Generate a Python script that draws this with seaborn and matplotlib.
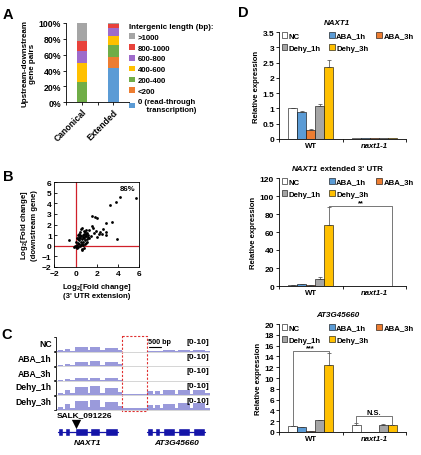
import numpy as np
import pandas as pd
import seaborn as sns
import matplotlib.pyplot as plt
from matplotlib.patches import Patch
from matplotlib.offsetbox import TextArea, HPacker, AnchoredOffsetbox
from matplotlib.transforms import blended_transform_factory

# ---- panel A: intergenic length of gene pairs (%)
a_pairs = ['Canonical', 'Extended']
a_bins = ['0 (read-through\n    transcription)', '<200', '200-400', '400-600',
          '600-800', '800-1000', '>1000']
a_canonical = [0, 0, 25.6, 24.4, 14.3, 13.4, 22.3]
a_extended = [43.3, 13.4, 16.0, 10.5, 10.1, 5.4, 1.3]
a_colors = ['#5B9BD5', '#ED7D31', '#70AD47', '#FFC000', '#9E6BCB', '#E8423B', '#A5A5A5']

# ---- panel B: log2 fold changes (3' UTR extension vs downstream gene)
b_x = [5.7, 4.2, 3.8, 3.2, 3.4, 2.9, 3.9, 1.5, 1.8, 2.0, -0.6,
       2.6, 2.9, 2.9, 2.5, 2.2, 2.0, 1.9, 1.6, 1.5, 1.3, 1.7, 2.3,
       1.2, 1.1, 1.0, 0.9, 0.8, 0.7, 0.6, 0.5, 0.4, 0.3, 0.2, 0.1, 0.0,
       0.5, 0.6, 0.7, 0.8, 0.9, 1.0, 0.3, 0.4, 0.2, 0.1, 0.0, -0.1, -0.2,
       0.6, 0.8, 0.5, 0.3, 0.4, 0.2, 0.1, 0.7, 0.9, 1.1, 1.2, 1.4, 1.0,
       0.5, 0.6, 0.7, 0.3, 0.8, 1.0, 1.3, 0.4, 0.9, 0.6, 0.2, 1.1]
b_y = [4.5, 4.6, 4.1, 3.8, 2.2, 2.1, 0.6, 2.8, 2.7, 2.6, 0.5,
       1.6, 1.3, 1.0, 1.1, 1.1, 0.8, 1.4, 1.7, 1.9, 1.5, 1.2, 1.3,
       1.0, 1.2, 0.9, 1.3, 1.1, 0.8, 1.7, 1.6, 1.3, 1.1, 1.0, 0.7, 0.4,
       0.9, 0.6, 0.4, 0.7, 0.5, 0.3, 0.5, 0.7, 0.3, 0.1, -0.1, 0.0, -0.1,
       -0.3, -0.2, 0.1, 0.2, 0.0, -0.1, -0.2, 1.0, 0.9, 0.6, 0.8, 0.9, 1.5,
       0.4, 0.2, 0.1, 0.8, 1.4, 1.1, 0.7, 1.0, 0.2, -0.4, 0.6, 0.4]
b_percent = '86%'

# ---- panel C: RNA-seq coverage (0-10 scale) over genomic bins (bp)
c_tracks = ['NC', 'ABA_1h', 'ABA_3h', 'Dehy_1h', 'Dehy_3h']
c_edges = [0, 40, 250, 335, 545, 750, 1300, 1380, 1800, 2010, 2550, 2700,
           3770, 4020, 4100, 4310, 4435, 4940, 5060, 5565, 5690, 6190, 6400]
c_nc = [0.3, 1.0, 0.3, 1.6, 0.6, 3.0, 1.0, 3.2, 1.0, 2.8, 1.2, 0.0,
        0.6, 0.2, 0.7, 0.2, 0.9, 0.2, 0.9, 0.2, 0.9, 0.4]
c_aba1 = [0.3, 1.0, 0.3, 1.8, 0.6, 3.2, 1.0, 3.4, 1.0, 2.9, 1.2, 0.0,
          0.1, 0.0, 0.1, 0.0, 0.2, 0.0, 0.2, 0.0, 0.2, 0.0]
c_aba3 = [0.2, 0.6, 0.2, 1.0, 0.4, 2.2, 0.6, 2.0, 0.6, 1.8, 0.8, 0.0,
          0.1, 0.0, 0.1, 0.0, 0.1, 0.0, 0.1, 0.0, 0.1, 0.0]
c_dehy1 = [0.5, 2.0, 0.8, 3.8, 1.5, 6.0, 2.0, 6.2, 2.0, 5.2, 2.5, 1.2,
           2.8, 1.0, 3.2, 1.0, 3.8, 1.0, 3.8, 1.0, 4.0, 1.5]
c_dehy3 = [0.5, 2.2, 0.8, 4.0, 1.5, 6.5, 2.0, 6.6, 2.0, 5.6, 2.5, 1.4,
           3.2, 1.2, 3.8, 1.2, 4.4, 1.2, 4.5, 1.2, 4.6, 1.5]
c_naxt1_exons = [(40, 250), (335, 545), (750, 1300), (1380, 1800), (2010, 2550)]
c_at3g_exons = [(3770, 4020), (4100, 4310), (4435, 4940), (5060, 5565), (5690, 6190)]
c_extension = (2700, 3770)
c_salk_pos = 800
c_salk = 'SALK_091226'

# ---- panel D: qRT-PCR relative expression
d_genotypes = ['WT', 'naxt1-1']
d_treatments = ['NC', 'ABA_1h', 'ABA_3h', 'Dehy_1h', 'Dehy_3h']
d_colors = ['#FFFFFF', '#5B9BD5', '#ED7D31', '#A5A5A5', '#FFC000']
d1_wt = [1.0, 0.87, 0.29, 1.08, 2.34]
d1_wt_err = [0.01, 0.03, 0.03, 0.08, 0.26]
d1_mut = [0.02, 0.02, 0.02, 0.02, 0.02]
d1_mut_err = [0, 0, 0, 0, 0]
d2_wt = [1.0, 1.8, 0.6, 8.0, 68.0]
d2_wt_err = [0.2, 0.3, 0.1, 2.5, 19.5]
d2_mut = [0.3, 0.2, 0.2, 0.3, 0.3]
d2_mut_err = [0, 0, 0, 0, 0]
d3_wt = [1.05, 0.86, 0.2, 2.15, 12.4]
d3_wt_err = [0.05, 0.15, 0.03, 0.15, 2.2]
d3_mut = [1.35, 0.05, 0.05, 1.35, 1.23]
d3_mut_err = [0.3, 0, 0, 0.1, 0.1]

sns.set_theme(style='white', rc={
    'axes.edgecolor': 'black', 'axes.linewidth': 0.6,
    'xtick.color': 'black', 'ytick.color': 'black',
    'text.color': 'black', 'axes.labelcolor': 'black',
    'xtick.bottom': True, 'ytick.left': True,
})
plt.rcParams['font.family'] = ['Liberation Sans', 'DejaVu Sans']
plt.rcParams['font.weight'] = 'bold'
plt.rcParams['axes.labelweight'] = 'bold'
plt.rcParams['mathtext.fontset'] = 'custom'
plt.rcParams['mathtext.default'] = 'bf'
plt.rcParams['mathtext.bf'] = 'Liberation Sans:bold'
plt.rcParams['mathtext.rm'] = 'Liberation Sans:bold'

W, H = 421, 456
fig = plt.figure(figsize=(W / 100, H / 100), dpi=100)


def px_axes(left, top, right, bottom):
    return fig.add_axes([left / W, 1 - bottom / H, (right - left) / W, (bottom - top) / H])


def panel_letter(x, y, s):
    fig.text(x / W, 1 - y / H, s, fontsize=10.5, fontweight='bold', ha='center', va='center')


# ================= A
ax_a = px_axes(66, 24, 129.3, 103.3)
bottoms = np.zeros(len(a_pairs))
bars_a = []
for label, color, canon, ext in zip(a_bins, a_colors, a_canonical, a_extended):
    vals = np.array([canon, ext])
    bars_a.append(ax_a.bar(a_pairs, vals, bottom=bottoms, width=0.32, color=color,
                           label=label, linewidth=0))
    bottoms += vals
ax_a.set_xlim(-0.5, 1.5)
ax_a.set_ylim(0, 100)
ax_a.set_yticks(range(0, 101, 20))
ax_a.set_yticklabels([f'{v}%' for v in range(0, 101, 20)])
ax_a.set_xticks([-0.5, 0.5, 1.5], minor=True)
ax_a.tick_params(axis='both', which='both', length=2, width=0.6, labelsize=6.3, pad=1.5)
ax_a.tick_params(axis='x', which='major', labelsize=6.2)
plt.setp(ax_a.get_xticklabels(), rotation=45, ha='right', rotation_mode='anchor')
ax_a.spines[['top', 'right']].set_visible(False)
ax_a.set_ylabel('Upstream-downstream\ngene pairs', fontsize=5.8, labelpad=2, linespacing=1.0)
fig.legend(bars_a[::-1], a_bins[::-1], loc='upper left',
           bbox_to_anchor=(129 / W, 1 - 24 / H), frameon=False,
           title='Intergenic length (bp):',
           title_fontproperties={'weight': 'bold', 'size': 5.8},
           fontsize=5.6, handlelength=0.75, handleheight=0.75, handletextpad=0.4,
           labelspacing=0.42, borderpad=0, borderaxespad=0, alignment='left')
panel_letter(8, 15, 'A')

# ================= B
ax_b = px_axes(54.5, 183, 139.3, 268)
sns.scatterplot(x=b_x, y=b_y, ax=ax_b, color='black', s=4, linewidth=0, zorder=3)
ax_b.axvline(0, color='#D0202A', lw=0.9, zorder=2)
ax_b.axhline(0, color='#D0202A', lw=0.9, zorder=2)
ax_b.set_xlim(-2, 6)
ax_b.set_ylim(-2, 6)
ax_b.set_xticks(range(-2, 7, 2))
ax_b.set_yticks(range(-2, 7, 1))
ax_b.tick_params(axis='both', direction='in', length=2, width=0.6, labelsize=6, pad=2)
ax_b.text(4.85, 5.35, b_percent, fontsize=5.6, ha='center', va='center')
ax_b.set_ylabel('Log$_2$[Fold change]\n(downstream gene)', fontsize=5.6, labelpad=3,
                linespacing=1.1)
ax_b.set_xlabel('Log$_2$[Fold change]\n(3\' UTR extension)', fontsize=5.6, labelpad=3,
                linespacing=1.1)
panel_letter(8, 177, 'B')

# ================= C
ax_c = px_axes(57, 336, 210, 448)
ax_c.set_xlim(0, 6400)
ax_c.set_ylim(75.3, -1.4)
ax_c.axis('off')
coverage = [c_nc, c_aba1, c_aba3, c_dehy1, c_dehy3]
lab_tr = blended_transform_factory(ax_c.transAxes, ax_c.transData)
for i, (name, cov) in enumerate(zip(c_tracks, coverage)):
    base = (i + 1) * 10
    ax_c.stairs(base - np.array(cov), c_edges, baseline=base, fill=True,
                color='#9A9ADB', linewidth=0)
    ax_c.axhline(base, color='#CFCFCF', lw=0.6)
    ax_c.plot([-0.02, -0.008, -0.008, -0.02], [i * 10 + 0.3, i * 10 + 0.3, base - 0.3, base - 0.3],
              transform=lab_tr, color='black', lw=0.6, clip_on=False)
    ax_c.text(-0.035, i * 10 + 4.2, name, transform=lab_tr, ha='right', va='center',
              fontsize=6.2)
    ax_c.text(5400, i * 10 + 3.2, '[0-10]', ha='left', va='center', fontsize=6)
ax_c.add_patch(plt.Rectangle((c_extension[0], -1.0), c_extension[1] - c_extension[0], 51.5,
                             fill=False, edgecolor='#E03030', lw=0.8, ls=(0, (2, 1.5))))
ax_c.plot([3850, 4350], [6.6, 6.6], color='black', lw=0.8)
ax_c.text(3800, 3.0, '500 bp', ha='left', va='center', fontsize=5.2)
gene_color = '#1414A8'
for exons, name in [(c_naxt1_exons, 'NAXT1'), (c_at3g_exons, 'AT3G45660')]:
    ax_c.plot([exons[0][0], exons[-1][1]], [65, 65], color=gene_color, lw=0.9)
    ax_c.broken_barh([(s, e - s) for s, e in exons], (62.3, 5.4), facecolors=gene_color)
    ax_c.text((exons[0][0] + exons[-1][1]) / 2, 72, name, ha='center', va='center',
              fontsize=6, fontstyle='italic')
ax_c.scatter([c_salk_pos], [59.3], marker='v', s=45, color='black', linewidth=0)
ax_c.text(0, 53.4, c_salk, ha='left', va='center', fontsize=6)
panel_letter(7, 335, 'C')


# ================= D
def expression_panel(top, bottom, wt, wt_err, mut, mut_err, ymax, ystep, title_parts):
    ax = px_axes(279, top, 406, bottom)
    df = pd.DataFrame({
        'genotype': np.repeat(d_genotypes, len(d_treatments)),
        'treatment': d_treatments * len(d_genotypes),
        'value': wt + mut,
    })
    sns.barplot(data=df, x='genotype', y='value', hue='treatment', order=d_genotypes,
                hue_order=d_treatments, palette=dict(zip(d_treatments, d_colors)),
                width=0.71, errorbar=None, edgecolor='black', linewidth=0.4,
                saturation=1, legend=False, ax=ax)
    errors = {'WT': wt_err, 'naxt1-1': mut_err}
    centers = {}
    bar_containers = list(ax.containers)
    for j, container in enumerate(bar_containers):
        for bar, geno in zip(container, d_genotypes):
            xc = bar.get_x() + bar.get_width() / 2
            err = errors[geno][j]
            centers[(geno, d_treatments[j])] = (xc, bar.get_height() + err)
            if err > 0:
                ax.errorbar(xc, bar.get_height(), yerr=[[0], [err]], fmt='none',
                            ecolor='#404040', elinewidth=0.5, capsize=1.3, capthick=0.5)
    ax.set_xlim(-0.5, 1.5)
    ax.set_ylim(0, ymax)
    ax.set_yticks(np.arange(0, ymax + ystep / 2, ystep))
    ax.yaxis.set_major_formatter(plt.FormatStrFormatter('%g'))
    ax.set_xticks([-0.5, 0.5, 1.5], minor=True)
    ax.tick_params(axis='x', which='major', length=0, labelsize=5.6, pad=2)
    ax.tick_params(axis='x', which='minor', length=2.5, width=0.6)
    ax.tick_params(axis='y', length=2, width=0.6, labelsize=6, pad=1.5)
    ax.get_xticklabels()[1].set_fontstyle('italic')
    ax.spines[['top', 'right']].set_visible(False)
    ax.set_xlabel('')
    ax.set_ylabel('Relative expression', fontsize=5.6, labelpad=2)
    order = [0, 3, 1, 4, 2]
    handles = [Patch(facecolor=d_colors[k], edgecolor='black', linewidth=0.4) for k in order]
    ax.legend(handles, [d_treatments[k] for k in order], ncol=3, loc='upper left',
              bbox_to_anchor=(0.02, 1.0), frameon=False, fontsize=5.6,
              handlelength=0.75, handleheight=0.75, handletextpad=0.2,
              columnspacing=1.0, labelspacing=0.6, borderpad=0, borderaxespad=0)
    areas = [TextArea(t, textprops=dict(fontsize=5.8, fontweight='bold',
                                        fontstyle='italic' if it else 'normal'))
             for t, it in title_parts]
    box = HPacker(children=areas, align='baseline', pad=0, sep=0)
    ax.add_artist(AnchoredOffsetbox(loc='lower center', child=box, pad=0, borderpad=0,
                                    frameon=False, bbox_to_anchor=(0.46, 1.06),
                                    bbox_transform=ax.transAxes))
    return ax, centers


def bracket(ax, p1, p2, level, text, color='#606060'):
    (x1, y1), (x2, y2) = p1, p2
    ax.plot([x1, x1, x2, x2], [y1, level, level, y2], color=color, lw=0.6)
    ax.text((x1 + x2) / 2, level, text, ha='center', va='bottom', fontsize=5.4)


ax_d1, _ = expression_panel(33, 140, d1_wt, d1_wt_err, d1_mut, d1_mut_err, 3.5, 0.5,
                            [('NAXT1', True)])
ax_d2, c2 = expression_panel(179, 287, d2_wt, d2_wt_err, d2_mut, d2_mut_err, 120, 20,
                             [('NAXT1', True), (" extended 3' UTR", False)])
bracket(ax_d2, c2[('WT', 'Dehy_3h')], c2[('naxt1-1', 'Dehy_3h')], 89, '**')
ax_d3, c3 = expression_panel(325, 433, d3_wt, d3_wt_err, d3_mut, d3_mut_err, 20, 2,
                             [('AT3G45660', True)])
bracket(ax_d3, c3[('WT', 'NC')], c3[('WT', 'Dehy_3h')], 15, '***')
bracket(ax_d3, c3[('naxt1-1', 'NC')], c3[('naxt1-1', 'Dehy_3h')], 3.0, 'N.S.')
panel_letter(243, 13, 'D')

fig.savefig('out.png', dpi=100, facecolor='white')
